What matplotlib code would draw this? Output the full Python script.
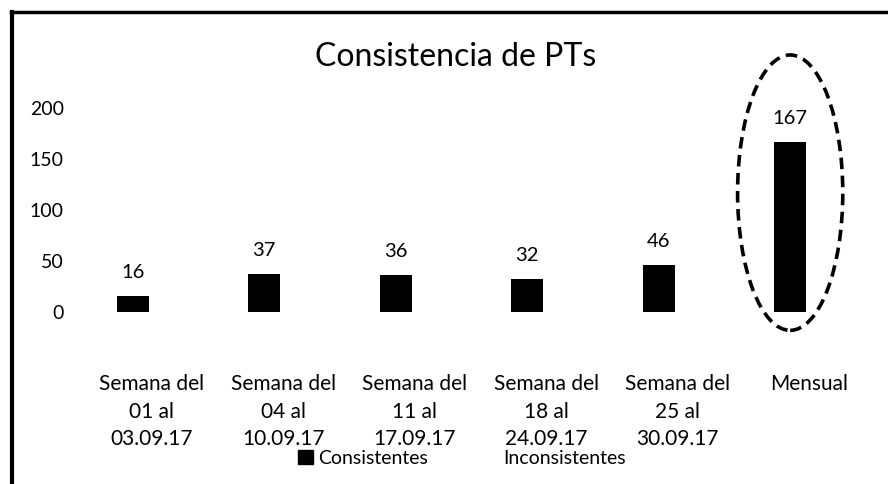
import numpy as np
import matplotlib
matplotlib.use("Agg")
import matplotlib.pyplot as plt
from matplotlib.patches import Ellipse, Patch
from matplotlib.lines import Line2D

plt.rcParams['font.family'] = ['Lato', 'DejaVu Sans']

# data
categorias = ["Semana del\n01 al\n03.09.17", "Semana del\n04 al\n10.09.17",
              "Semana del\n11 al\n17.09.17", "Semana del\n18 al\n24.09.17",
              "Semana del\n25 al\n30.09.17", "Mensual"]
consistentes = [16, 37, 36, 32, 46, 167]
inconsistentes = [0, 0, 0, 0, 0, 0]
y_ticks = [0, 50, 100, 150, 200]

fig = plt.figure(figsize=(8.88, 4.84), dpi=100)
ax = fig.add_axes([86 / 888, 1 - 312 / 484, 789 / 888, 204 / 484])

x = np.arange(len(categorias))
off = 0.145
w = 0.245
ax.bar(x - off, consistentes, w, color="black", label="Consistentes")
ax.bar(x + off, inconsistentes, w, color="white", label="Inconsistentes")

for xi, v in zip(x - off, consistentes):
    ax.annotate(str(v), (xi, v), xytext=(0, 17), textcoords="offset points",
                ha="center", va="center", fontsize=14.5)

ax.set_xlim(-0.5, len(categorias) - 0.5)
ax.set_ylim(0, 200)
ax.set_yticks(y_ticks)
ax.set_xticks(x)
ax.set_xticklabels(categorias, fontsize=15, linespacing=1.45)
ax.tick_params(axis="x", length=0, pad=45)
ax.tick_params(axis="y", length=0, pad=16, labelsize=14)
for s in ax.spines.values():
    s.set_visible(False)

# circled monthly total
ell = Ellipse((x[-1] - off, 117), 0.8, 270, fill=False, ec="black",
              lw=2.6, ls=(0, (3.2, 1.8)), clip_on=False)
ax.add_patch(ell)

fig.text(0.513, 1 - 57 / 484, "Consistencia de PTs", ha="center", va="center",
         fontsize=23)

handles = [Patch(facecolor="black", edgecolor="black"),
           Patch(facecolor="white", edgecolor="white")]
fig.legend(handles, ["Consistentes", "Inconsistentes"], loc="center",
           bbox_to_anchor=(462 / 888, 1 - 458 / 484), ncol=2, frameon=False,
           fontsize=14, handlelength=0.75, handleheight=0.75,
           columnspacing=2.8, handletextpad=0.3)

# frame of the pasted chart (left and top edges)
fig.add_artist(Line2D([12 / 888, 12 / 888], [0, 1 - 12 / 484],
                      transform=fig.transFigure, color="black", lw=3))
fig.add_artist(Line2D([11 / 888, 1], [1 - 12 / 484, 1 - 12 / 484],
                      transform=fig.transFigure, color="black", lw=2.5))

fig.savefig("out.png", dpi=100)
